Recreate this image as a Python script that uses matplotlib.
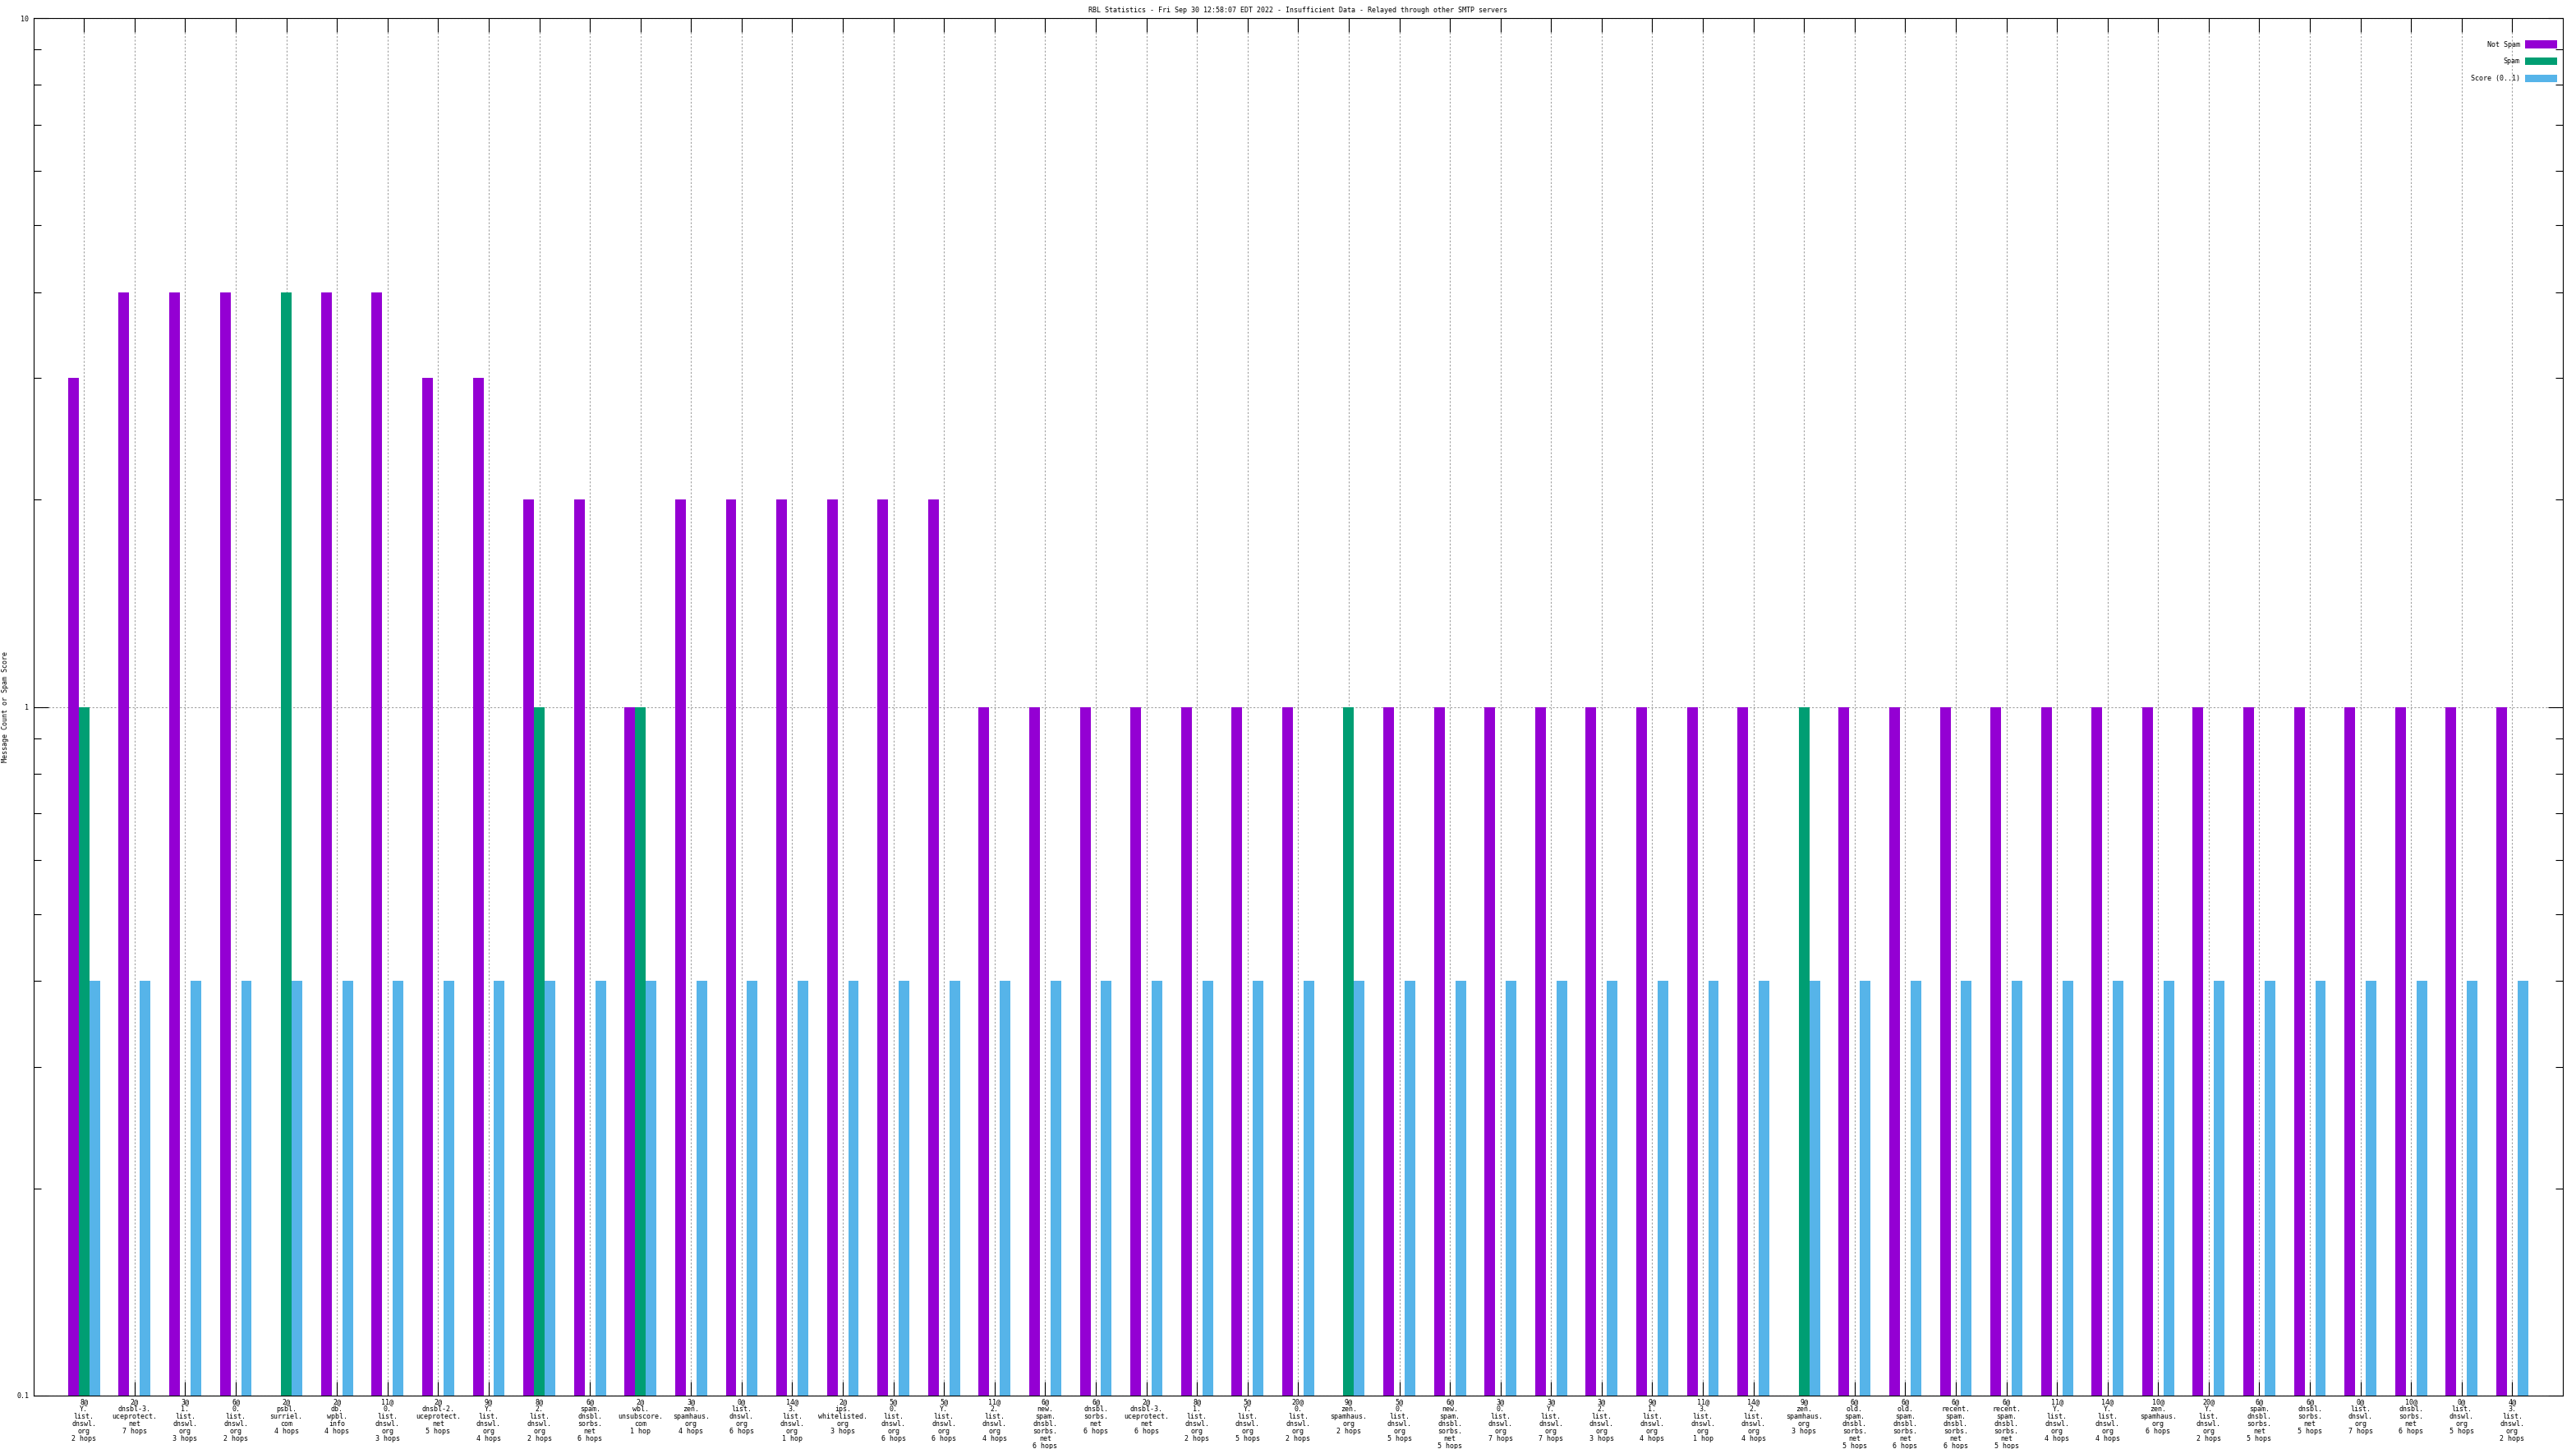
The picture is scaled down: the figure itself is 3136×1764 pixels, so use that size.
import matplotlib
matplotlib.use("Agg")
import matplotlib.pyplot as plt
import numpy as np

plt.rcParams['font.family'] = ['DejaVu Sans Mono']

labels = [
    "8@\nY.\nlist.\ndnswl.\norg\n2 hops",
    "2@\ndnsbl-3.\nuceprotect.\nnet\n7 hops",
    "3@\n1.\nlist.\ndnswl.\norg\n3 hops",
    "6@\n0.\nlist.\ndnswl.\norg\n2 hops",
    "2@\npsbl.\nsurriel.\ncom\n4 hops",
    "2@\ndb.\nwpbl.\ninfo\n4 hops",
    "11@\n0.\nlist.\ndnswl.\norg\n3 hops",
    "2@\ndnsbl-2.\nuceprotect.\nnet\n5 hops",
    "9@\nY.\nlist.\ndnswl.\norg\n4 hops",
    "8@\n2.\nlist.\ndnswl.\norg\n2 hops",
    "6@\nspam.\ndnsbl.\nsorbs.\nnet\n6 hops",
    "2@\nwbl.\nunsubscore.\ncom\n1 hop",
    "3@\nzen.\nspamhaus.\norg\n4 hops",
    "0@\nlist.\ndnswl.\norg\n6 hops",
    "14@\n3.\nlist.\ndnswl.\norg\n1 hop",
    "2@\nips.\nwhitelisted.\norg\n3 hops",
    "5@\n0.\nlist.\ndnswl.\norg\n6 hops",
    "5@\nY.\nlist.\ndnswl.\norg\n6 hops",
    "11@\n2.\nlist.\ndnswl.\norg\n4 hops",
    "6@\nnew.\nspam.\ndnsbl.\nsorbs.\nnet\n6 hops",
    "6@\ndnsbl.\nsorbs.\nnet\n6 hops",
    "2@\ndnsbl-3.\nuceprotect.\nnet\n6 hops",
    "8@\n1.\nlist.\ndnswl.\norg\n2 hops",
    "5@\nY.\nlist.\ndnswl.\norg\n5 hops",
    "20@\n0.\nlist.\ndnswl.\norg\n2 hops",
    "9@\nzen.\nspamhaus.\norg\n2 hops",
    "5@\n0.\nlist.\ndnswl.\norg\n5 hops",
    "6@\nnew.\nspam.\ndnsbl.\nsorbs.\nnet\n5 hops",
    "3@\n0.\nlist.\ndnswl.\norg\n7 hops",
    "3@\nY.\nlist.\ndnswl.\norg\n7 hops",
    "3@\n2.\nlist.\ndnswl.\norg\n3 hops",
    "9@\n1.\nlist.\ndnswl.\norg\n4 hops",
    "11@\n3.\nlist.\ndnswl.\norg\n1 hop",
    "14@\n2.\nlist.\ndnswl.\norg\n4 hops",
    "9@\nzen.\nspamhaus.\norg\n3 hops",
    "6@\nold.\nspam.\ndnsbl.\nsorbs.\nnet\n5 hops",
    "6@\nold.\nspam.\ndnsbl.\nsorbs.\nnet\n6 hops",
    "6@\nrecent.\nspam.\ndnsbl.\nsorbs.\nnet\n6 hops",
    "6@\nrecent.\nspam.\ndnsbl.\nsorbs.\nnet\n5 hops",
    "11@\nY.\nlist.\ndnswl.\norg\n4 hops",
    "14@\nY.\nlist.\ndnswl.\norg\n4 hops",
    "10@\nzen.\nspamhaus.\norg\n6 hops",
    "20@\nY.\nlist.\ndnswl.\norg\n2 hops",
    "6@\nspam.\ndnsbl.\nsorbs.\nnet\n5 hops",
    "6@\ndnsbl.\nsorbs.\nnet\n5 hops",
    "0@\nlist.\ndnswl.\norg\n7 hops",
    "10@\ndnsbl.\nsorbs.\nnet\n6 hops",
    "0@\nlist.\ndnswl.\norg\n5 hops",
    "4@\n3.\nlist.\ndnswl.\norg\n2 hops",
]

not_spam = [3, 4, 4, 4, 0, 4, 4, 3, 3, 2,
            2, 1, 2, 2, 2, 2, 2, 2, 1, 1,
            1, 1, 1, 1, 1, 0, 1, 1, 1, 1,
            1, 1, 1, 1, 0, 1, 1, 1, 1, 1,
            1, 1, 1, 1, 1, 1, 1, 1, 1]
spam = [1, 0, 0, 0, 4, 0, 0, 0, 0, 1,
        0, 1, 0, 0, 0, 0, 0, 0, 0, 0,
        0, 0, 0, 0, 0, 1, 0, 0, 0, 0,
        0, 0, 0, 0, 1, 0, 0, 0, 0, 0,
        0, 0, 0, 0, 0, 0, 0, 0, 0]
score = [0.4] * 49

series_names = ["Not Spam", "Spam", "Score (0..1)"]
colors = ["#9400D3", "#009E73", "#56B4E9"]

title = "RBL Statistics - Fri Sep 30 12:58:07 EDT 2022 - Insufficient Data - Relayed through other SMTP servers"

W, H = 3136, 1764
fig = plt.figure(figsize=(W / 100, H / 100), dpi=100)
x0, x1, ytop, ybot = 40.7, 3120, 22, 1699
ax = fig.add_axes([x0 / W, 1 - ybot / H, (x1 - x0) / W, (ybot - ytop) / H])

x = np.arange(1, len(labels) + 1)
bw = 0.21
handles = []
for i, (vals, name, c) in enumerate(zip([not_spam, spam, score], series_names, colors)):
    h = ax.bar(x + (i - 1) * bw, vals, width=bw, color=c, label=name, linewidth=0, zorder=2)
    handles.append(h)

ax.set_yscale('log', nonpositive='clip')
ax.set_ylim(0.1, 10)
ax.set_xlim(0, 50)

ax.set_xticks(x)
ax.set_xticklabels(labels, fontsize=6, linespacing=1.0, multialignment='center')
ax.set_yticks([0.1, 1, 10])
ax.set_yticklabels(["0.1", "1", "10"], fontsize=6)
minors = [k * 0.1 for k in range(2, 10)] + [float(k) for k in range(2, 10)]
ax.set_yticks(minors, minor=True)
ax.yaxis.set_minor_formatter(matplotlib.ticker.NullFormatter())

ax.tick_params(axis='x', which='major', direction='in', length=12.2, width=0.8,
               top=True, bottom=True, pad=2, colors='black')
ax.tick_params(axis='x', which='minor', bottom=False, top=False)
ax.tick_params(axis='y', which='major', direction='in', length=13, width=0.8,
               left=True, right=True, pad=4)
ax.tick_params(axis='y', which='minor', direction='in', length=6.5, width=0.8,
               left=True, right=True)

ax.set_axisbelow(True)
ax.grid(True, axis='x', which='major', color='#a0a0a0', linestyle=(0, (2, 2)), linewidth=0.8)
ax.grid(True, axis='y', which='major', color='#a0a0a0', linestyle=(0, (2, 2)), linewidth=0.8)
for s in ax.spines.values():
    s.set_linewidth(0.8)

ax.set_title(title, fontsize=6, pad=5)
ax.set_ylabel("Message Count or Spam Score", fontsize=6)
ax.yaxis.set_label_coords((11.5 - x0) / (x1 - x0), 0.5)

leg = ax.legend(handles=handles, loc='upper right', frameon=False, markerfirst=False,
                bbox_to_anchor=(1.0, 1.0 - 20 / (ybot - ytop)),
                fontsize=6, handlelength=4.6, handleheight=1.3, labelspacing=1.35,
                handletextpad=0.8, borderaxespad=0.3, borderpad=0.6)

fig.savefig("out.png", dpi=100)
